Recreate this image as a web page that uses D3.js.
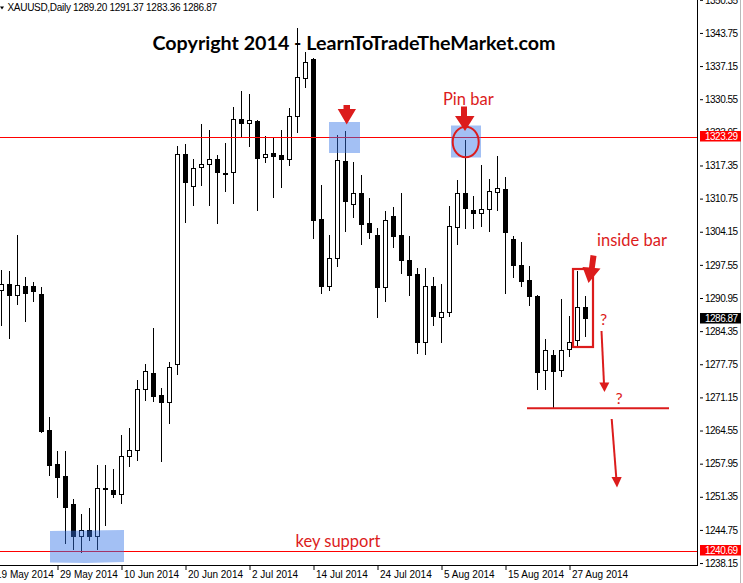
<!DOCTYPE html>
<html><head><meta charset="utf-8">
<script src="https://cdn.jsdelivr.net/npm/d3@7"></script>
<style>
html,body{margin:0;padding:0;background:#fff;}
svg{display:block;}
</style></head><body>
<svg id="chart" width="743" height="583"></svg>
<script>
// ---- DATA (XAUUSD daily) ----
const dates = [
 "2014-05-20","2014-05-21","2014-05-22","2014-05-23","2014-05-26","2014-05-27","2014-05-28","2014-05-29","2014-05-30",
 "2014-06-02","2014-06-03","2014-06-04","2014-06-05","2014-06-06","2014-06-09","2014-06-10","2014-06-11","2014-06-12","2014-06-13",
 "2014-06-16","2014-06-17","2014-06-18","2014-06-19","2014-06-20","2014-06-23","2014-06-24","2014-06-25","2014-06-26","2014-06-27","2014-06-30",
 "2014-07-01","2014-07-02","2014-07-03","2014-07-04","2014-07-07","2014-07-08","2014-07-09","2014-07-10","2014-07-11",
 "2014-07-14","2014-07-15","2014-07-16","2014-07-17","2014-07-18","2014-07-21","2014-07-22","2014-07-23","2014-07-24","2014-07-25",
 "2014-07-28","2014-07-29","2014-07-30","2014-07-31",
 "2014-08-01","2014-08-04","2014-08-05","2014-08-06","2014-08-07","2014-08-08","2014-08-11","2014-08-12","2014-08-13","2014-08-14","2014-08-15",
 "2014-08-18","2014-08-19","2014-08-20","2014-08-21","2014-08-22","2014-08-25","2014-08-26","2014-08-27","2014-08-28","2014-08-29"
];
const open = [
 1292.58,1293.78,1291.59,1293.38,1293.38,1291.65,1264.57,1257.80,1255.41,
 1249.84,1243.52,1244.80,1243.52,1253.16,1252.62,1251.97,1259.53,1260.73,1272.87,
 1276.06,1271.54,1270.20,1277.85,1319.66,1313.29,1317.07,1317.67,1318.66,1315.88,1315.99,
 1326.63,1325.83,1326.29,1319.12,1319.86,1319.52,1318.66,1327.15,1334.79,
 1338.57,1306.72,1293.38,1298.95,1318.26,1309.71,1311.82,1305.92,1303.59,1293.10,
 1307.38,1303.59,1298.61,1295.77,
 1282.15,1293.38,1287.21,1288.12,1305.05,1311.90,1308.57,1307.91,1308.71,1312.15,1312.69,
 1302.74,1297.56,1294.57,1291.25,1276.52,1279.50,1276.52,1280.70,1282.49,1289.20
];
const high = [
 1296.56,1296.23,1303.59,1295.23,1294.04,1293.24,1267.16,1260.39,1260.39,
 1250.83,1247.84,1249.10,1257.60,1257.74,1256.94,1263.57,1265.11,1274.66,1277.71,
 1284.88,1273.07,1278.25,1321.31,1321.65,1318.58,1325.63,1324.50,1319.52,1321.85,1329.08,
 1332.26,1331.60,1326.49,1323.30,1322.97,1324.44,1328.82,1344.75,1339.89,
 1338.70,1313.55,1303.59,1323.50,1324.30,1318.13,1315.54,1310.90,1304.93,1308.37,
 1309.03,1311.90,1303.39,1296.96,
 1296.96,1295.23,1293.78,1309.37,1314.54,1322.45,1311.22,1317.47,1314.68,1319.18,1315.00,
 1303.39,1302.06,1297.40,1291.59,1282.83,1280.64,1290.79,1287.27,1296.29,1291.37
];
const low = [
 1285.61,1282.95,1289.72,1286.33,1290.31,1264.17,1255.67,1251.29,1242.13,
 1240.88,1240.34,1242.67,1240.88,1245.65,1251.29,1250.10,1257.40,1258.73,1270.68,
 1270.40,1258.45,1266.02,1275.72,1306.04,1309.51,1313.41,1309.51,1305.84,1312.21,1309.82,
 1322.97,1321.17,1308.51,1318.13,1311.02,1313.01,1317.47,1323.96,1333.06,
 1302.94,1291.91,1292.58,1297.28,1304.25,1307.04,1301.74,1302.94,1287.13,1290.45,
 1301.06,1295.89,1291.45,1279.96,
 1279.84,1285.67,1282.15,1287.33,1301.74,1304.93,1304.93,1305.25,1304.39,1308.51,1291.91,
 1295.23,1293.44,1289.46,1272.87,1272.87,1269.09,1275.32,1279.36,1281.15,1283.36
];
const close = [
 1293.78,1291.51,1293.50,1291.91,1292.30,1264.37,1257.66,1255.27,1249.30,
 1243.52,1244.80,1243.52,1253.16,1252.88,1251.89,1259.53,1260.73,1272.87,1276.46,
 1271.48,1270.20,1277.25,1319.66,1314.01,1316.79,1317.67,1318.66,1315.99,1315.60,1326.63,
 1325.83,1326.49,1318.86,1319.66,1319.26,1318.66,1327.15,1334.91,1338.03,
 1306.52,1293.30,1298.95,1318.46,1310.22,1311.90,1305.72,1304.05,1293.10,1306.52,
 1303.39,1298.61,1295.63,1282.15,
 1293.38,1287.33,1288.20,1305.32,1311.90,1308.91,1307.91,1308.71,1312.29,1312.89,1304.05,
 1297.56,1294.29,1291.31,1276.18,1280.64,1276.42,1280.64,1282.15,1289.12,1286.87
];
const priceTicks = [1350.35,1343.75,1337.15,1330.55,1323.95,1317.35,1310.75,1304.15,1297.55,1290.95,
                    1284.35,1277.75,1271.15,1264.55,1257.95,1251.35,1244.75,1238.15];
const dateTicks = ["2014-05-19","2014-05-29","2014-06-10","2014-06-20","2014-07-02","2014-07-14",
                   "2014-07-24","2014-08-05","2014-08-15","2014-08-27"];
const dateTickLabels = ["19 May 2014","29 May 2014","10 Jun 2014","20 Jun 2014","2 Jul 2014","14 Jul 2014",
                        "24 Jul 2014","5 Aug 2014","15 Aug 2014","27 Aug 2014"];
const symbol = "XAUUSD,Daily";
const markedLevels = [1323.29, 1240.69];
const currentPrice = 1286.87;
const swingLow = 1269.09;

// ---- DRAWING ----
const W = 743, H = 583, plotR = 698, plotB = 565;
const N = dates.length;
const svg = d3.select("#chart");

// index of a date, counting weekdays from the first bar (works for dates before the first bar)
function dateIndex(ds) {
  const k = dates.indexOf(ds);
  if (k >= 0) return k;
  const d0 = new Date(dates[0] + "T00:00:00Z"), d = new Date(ds + "T00:00:00Z");
  let n = 0, t = new Date(d);
  const step = d < d0 ? 1 : -1;
  while (+t !== +d0) { const wd = t.getUTCDay(); if (wd !== 0 && wd !== 6) n++; t.setUTCDate(t.getUTCDate() + step); }
  return d < d0 ? -n : n;
}

const x = d3.scaleLinear().domain([0, N - 1]).range([1.5, 1.5 + 8 * (N - 1)]);
const y = d3.scaleLinear().domain([1238.15, 1343.75]).range([563.06, 32.94]);

svg.append("rect").attr("width", W).attr("height", H).attr("fill", "#fff");

svg.append("defs").append("clipPath").attr("id", "plot")
  .append("rect").attr("x", 0).attr("y", 0).attr("width", plotR).attr("height", plotB);

const plot = svg.append("g").attr("clip-path", "url(#plot)");

const bars = d3.range(N).map(i => ({i, o: open[i], h: high[i], l: low[i], c: close[i]}));

const cg = plot.append("g").selectAll("g").data(bars).join("g");
cg.append("line")
  .attr("x1", d => Math.round(x(d.i) - 0.5) + 0.5)
  .attr("x2", d => Math.round(x(d.i) - 0.5) + 0.5)
  .attr("y1", d => Math.round(y(d.h)))
  .attr("y2", d => Math.round(y(d.l)) + 1)
  .attr("stroke", "#000").attr("stroke-width", 1);
cg.append("rect")
  .attr("x", d => Math.round(x(d.i) - 0.5) + 0.5 - 2)
  .attr("y", d => Math.round(y(Math.max(d.o, d.c))) + 0.5)
  .attr("width", 4)
  .attr("height", d => Math.max(1, Math.round(y(Math.min(d.o, d.c))) - Math.round(y(Math.max(d.o, d.c)))))
  .attr("fill", d => d.c >= d.o ? "#fff" : "#000")
  .attr("stroke", "#000").attr("stroke-width", 1);

// horizontal levels
const RED = "#ff0000", ARED = "#dc1c1c";
plot.selectAll("line.lvl").data(markedLevels).join("line").attr("class", "lvl")
  .attr("x1", 0).attr("x2", plotR)
  .attr("y1", d => Math.round(y(d)) + 1.5).attr("y2", d => Math.round(y(d)) + 1.5)
  .attr("stroke", RED).attr("stroke-width", 1);

// blue highlight boxes (semi transparent)
const blue = plot.append("g").attr("fill", "rgb(50,115,230)").attr("fill-opacity", 0.45);
blue.append("path").attr("d", "M50,531 L86,530.5 L124,530 L124,562 L86,563 L50,562.5 Z");
blue.append("rect").attr("x", 329).attr("y", 122).attr("width", 31).attr("height", 31);
blue.append("rect").attr("x", 451).attr("y", 125.5).attr("width", 30).attr("height", 32);

// annotations
const ann = plot.append("g");
ann.append("polygon").attr("fill", ARED)
  .attr("points", "343.5,105 350,105 350,109 356,109 346.7,124.5 337.7,109 343.5,109");
ann.append("polygon").attr("fill", ARED)
  .attr("points", "461,106.5 467,106.5 467,116 474.5,116 465,131 455,116 461,116");
ann.append("ellipse").attr("cx", 465.7).attr("cy", 142).attr("rx", 13).attr("ry", 15.3)
  .attr("fill", "none").attr("stroke", ARED).attr("stroke-width", 2);
ann.append("polygon").attr("fill", ARED)
  .attr("points", "590.5,255 596.5,256 594.8,268 600.5,268.5 588.5,283 582.5,267 589,267.5");
ann.append("rect").attr("x", 573).attr("y", 269).attr("width", 20).attr("height", 78)
  .attr("fill", "none").attr("stroke", ARED).attr("stroke-width", 2.2);
ann.append("line").attr("x1", 601.5).attr("y1", 331).attr("x2", 604).attr("y2", 384)
  .attr("stroke", ARED).attr("stroke-width", 2);
ann.append("polygon").attr("fill", ARED).attr("points", "599.3,382.5 609.3,382.5 604.5,392");
ann.append("line").attr("x1", 611.7).attr("y1", 419).attr("x2", 616.3).attr("y2", 478)
  .attr("stroke", ARED).attr("stroke-width", 2);
ann.append("polygon").attr("fill", ARED).attr("points", "611.5,477 621.7,477 617,487.5");
ann.append("line").attr("x1", 527).attr("x2", 669)
  .attr("y1", y(swingLow) + 0.5).attr("y2", y(swingLow) + 0.5)
  .attr("stroke", ARED).attr("stroke-width", 2.2);

const annFont = "Lato, 'Open Sans', sans-serif";
function annText(t, xx, yy, size) {
  ann.append("text").attr("x", xx).attr("y", yy).attr("fill", ARED)
    .attr("font-family", annFont).attr("font-size", size).text(t);
}
annText("Pin bar", 443, 104.5, 16.5);
annText("inside bar", 597, 246, 16.5);
annText("key support", 295.5, 547, 16.5);
annText("?", 600, 324.5, 16);
annText("?", 615.5, 404, 16);

// title
svg.append("text").attr("x", 152.5).attr("y", 49.5)
  .attr("font-family", "Lato, 'Liberation Sans', sans-serif").attr("font-weight", "bold")
  .attr("font-size", 19.5).attr("fill", "#000")
  .attr("textLength", 403).attr("lengthAdjust", "spacingAndGlyphs")
  .text("Copyright 2014 - LearnToTradeTheMarket.com");

// header
svg.append("polygon").attr("points", "0,6.5 4,6.5 2,9.5").attr("fill", "#000");
svg.append("text").attr("x", 7.5).attr("y", 11)
  .attr("font-family", "'Liberation Sans', Arial, sans-serif").attr("font-size", 10)
  .attr("letter-spacing", -0.3).attr("fill", "#000")
  .text(symbol + "  " + [open[N-1], high[N-1], low[N-1], close[N-1]].map(d3.format(".2f")).join(" "));

// frame
svg.append("line").attr("x1", 0).attr("x2", plotR).attr("y1", plotB + 0.5).attr("y2", plotB + 0.5)
  .attr("stroke", "#000");
svg.append("line").attr("x1", plotR - 0.5).attr("x2", plotR - 0.5).attr("y1", 0).attr("y2", plotB + 1)
  .attr("stroke", "#000");
svg.append("line").attr("x1", 740.5).attr("x2", 740.5).attr("y1", 0).attr("y2", H)
  .attr("stroke", "#b9b9b9");

// right price axis
const yAxis = d3.axisRight(y).tickValues(priceTicks).tickFormat(d3.format(".2f"))
  .tickSize(3).tickPadding(4);
const ya = svg.append("g").attr("transform", `translate(${plotR + 1},0)`).call(yAxis);
ya.select(".domain").remove();
ya.selectAll(".tick line").attr("x1", 1).attr("x2", 4);
ya.selectAll(".tick text").attr("font-family", "'Liberation Sans', Arial, sans-serif")
  .attr("font-size", 10).attr("letter-spacing", -0.5).attr("fill", "#000").attr("x", 6);

// price labels with background
const tagData = [
  {v: markedLevels[0], bg: RED}, {v: currentPrice, bg: "#000"}, {v: markedLevels[1], bg: RED}
];
const tags = svg.append("g").selectAll("g").data(tagData).join("g");
tags.append("rect").attr("x", 700).attr("y", d => Math.round(y(d.v)) - 5)
  .attr("width", 41).attr("height", 10.5).attr("fill", d => d.bg);
tags.append("text").attr("x", 705).attr("y", d => Math.round(y(d.v)) + 4)
  .attr("font-family", "'Liberation Sans', Arial, sans-serif").attr("font-size", 10)
  .attr("letter-spacing", -0.5).attr("fill", "#fff").text(d => d3.format(".2f")(d.v));

// bottom date axis
const xAxis = d3.axisBottom(x).tickValues(dateTicks.map(dateIndex))
  .tickFormat((d, i) => dateTickLabels[i]).tickSize(4);
const xa = svg.append("g").attr("transform", `translate(0,${plotB})`).call(xAxis);
xa.select(".domain").remove();
xa.selectAll(".tick line").attr("y1", 1).attr("y2", 5);
xa.selectAll(".tick text").attr("font-family", "'Liberation Sans', Arial, sans-serif")
  .attr("font-size", 10).attr("fill", "#000").attr("text-anchor", "start")
  .attr("x", 2).attr("y", 5.5).attr("dy", "0.71em");
</script>
</body></html>
